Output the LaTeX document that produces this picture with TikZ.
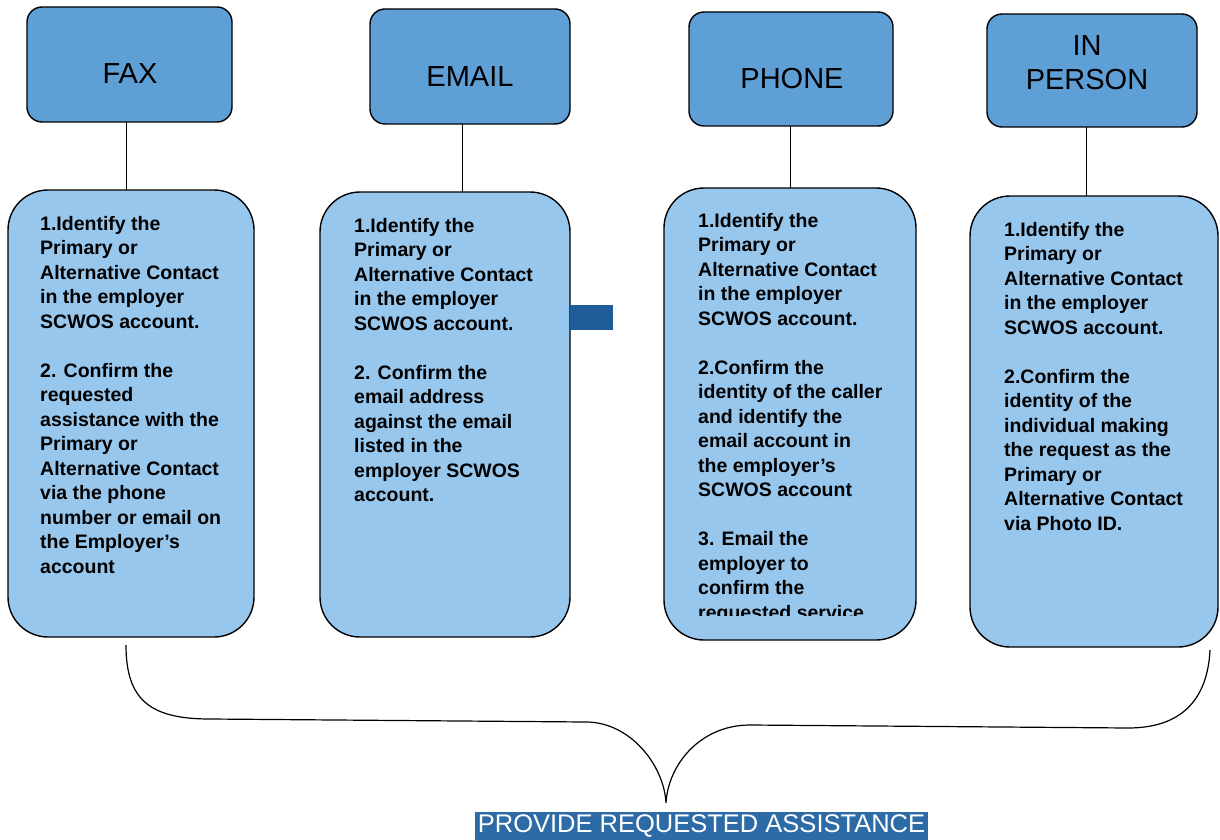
\documentclass[tikz,border=0pt]{standalone}
\usepackage{fontspec}
\setmainfont{Liberation Sans}
\definecolor{topblue}{HTML}{5E9FD6}
\definecolor{lowblue}{HTML}{98C7EE}
\definecolor{darkblue}{HTML}{1F5C99}
\definecolor{bannerblue}{HTML}{2D6BA7}
\begin{document}
\begin{tikzpicture}[x=1pt,y=-1pt,
  topbox/.style={draw=black,line width=1.4pt,fill=topblue,rounded corners=15pt,inner sep=0pt},
  lowbox/.style={draw=black,line width=1.4pt,fill=lowblue,rounded corners=40pt,inner sep=0pt},
  title/.style={font=\fontsize{29pt}{34pt}\selectfont,align=center,inner sep=0pt},
  body/.style={font=\fontsize{19.5pt}{24.5pt}\selectfont\bfseries,align=left,anchor=north west,inner sep=0pt},
  conn/.style={draw=black,line width=1pt},
  brace/.style={draw=black,line width=1.2pt}]
\useasboundingbox (0,0) rectangle (1220,840);
\fill[white] (0,0) rectangle (1220,840);

% top boxes
\node[topbox,minimum width=205pt,minimum height=115pt] (fax) at (129.5,64.5) {};
\node[topbox,minimum width=200pt,minimum height=115pt] (email) at (470,66.5) {};
\node[topbox,minimum width=204pt,minimum height=114pt] (phone) at (791,69) {};
\node[topbox,minimum width=210pt,minimum height=113pt] (inperson) at (1092,70.5) {};

\node[title] (faxt) at (130,73.5) {FAX};
\node[title] (emailt) at (470,77) {EMAIL};
\node[title] (phonet) at (792,79) {PHONE};
\node[title] (inpersont) at (1087,62.5) {IN\\PERSON};

% lower boxes
\node[lowbox,minimum width=246pt,minimum height=447pt] (faxd) at (131,413.5) {};
\node[lowbox,minimum width=250pt,minimum height=445pt] (emaild) at (445,414.5) {};
\node[lowbox,minimum width=252pt,minimum height=452pt] (phoned) at (790,414) {};
\node[lowbox,minimum width=248pt,minimum height=451pt] (inpersond) at (1094,421.5) {};

% connectors
\draw[conn] (126,122) -- (126,190);
\draw[conn] (462,124) -- (462,192);
\draw[conn] (790,126) -- (790,188);
\draw[conn] (1086,127) -- (1086,196);

% small dark rectangle
\fill[darkblue] (570,305) rectangle (613,330);

% texts
\node[body] (faxx) at (40,216) {1.Identify the\\Primary or\\Alternative Contact\\in the employer\\SCWOS account.\\[24.5pt]2. Confirm the\\requested\\assistance with the\\Primary or\\Alternative Contact\\via the phone\\number or email on\\the Employer's\\account};
\node[body] (emailx) at (354,218) {1.Identify the\\Primary or\\Alternative Contact\\in the employer\\SCWOS account.\\[24.5pt]2. Confirm the\\email address\\against the email\\listed in the\\employer SCWOS\\account.};
\begin{scope}
\clip (664,188) rectangle (916,615);
\node[body] (phonex) at (698,213) {1.Identify the\\Primary or\\Alternative Contact\\in the employer\\SCWOS account.\\[24.5pt]2.Confirm the\\identity of the caller\\and identify the\\email account in\\the employer's\\SCWOS account\\[24.5pt]3. Email the\\employer to\\confirm the\\requested service};
\end{scope}
\node[body] (inpersonx) at (1004,222) {1.Identify the\\Primary or\\Alternative Contact\\in the employer\\SCWOS account.\\[24.5pt]2.Confirm the\\identity of the\\individual making\\the request as the\\Primary or\\Alternative Contact\\via Photo ID.};

% brace
\coordinate (bl) at (126,645);
\coordinate (br) at (1210,650);
\coordinate (tip) at (666,803);
\draw[brace] (bl) .. controls (126,700) and (150,719) .. (210,719)
  -- (586,722) .. controls (630,722) and (664,765) .. (tip)
  .. controls (668,765) and (700,725) .. (750,725)
  -- (1128,728) .. controls (1190,728) and (1208,690) .. (br);

% banner
\node[fill=bannerblue,text=white,font=\fontsize{25.5pt}{28pt}\selectfont,minimum width=453pt,minimum height=28pt,inner sep=0pt] (banner) at (701.5,826) {PROVIDE REQUESTED ASSISTANCE};
\end{tikzpicture}
\end{document}
